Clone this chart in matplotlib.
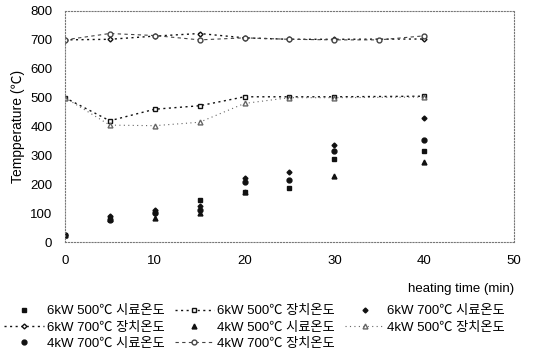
import numpy as np
import matplotlib.pyplot as plt

plt.rcParams['font.family'] = ['Liberation Sans', 'Noto Sans CJK KR', 'DejaVu Sans']

# heating time (min)
t_sample = [0, 5, 10, 15, 20, 25, 30, 40]
t_dev = [0, 5, 10, 15, 20, 25, 30, 40]
t_dev_4k700 = [0, 5, 10, 15, 20, 25, 30, 35, 40]

# 시료온도 (sample temperature)
s_6k500 = [25, 85, 105, 145, 175, 187, 287, 315]
s_6k700 = [25, 92, 110, 125, 222, 242, 336, 430]
s_4k500 = [25, 80, 85, 100, 172, np.nan, 228, 277]
s_4k700 = [25, 78, 100, 110, 207, 214, 315, 353]

# 장치온도 (device temperature)
d_6k500 = [500, 420, 460, 472, 503, 503, 503, 505]
d_6k700 = [700, 702, 713, 722, 707, 702, 702, 703]
d_4k500 = [500, 405, 403, 415, 480, 500, 500, 502]
d_4k700 = [700, 722, 715, 700, 707, 702, 700, 700, 714]

fig = plt.figure(figsize=(5.36, 3.54), dpi=100)
ax = fig.add_axes([0.121, 0.316, 0.838, 0.653])

k = '#111111'
ms = 3.5
a, = ax.plot(t_sample, s_6k500, 's', color=k, ms=ms, ls='none')
b, = ax.plot(t_dev, d_6k500, 's', color=k, mfc='white', ms=ms, ls=(0, (1.5, 2.5)), lw=1)
c, = ax.plot(t_sample, s_6k700, 'D', color=k, ms=ms - 1, ls='none')
d, = ax.plot(t_dev, d_6k700, 'D', color=k, mfc='white', ms=ms - 1, ls=(0, (1.5, 2.5)), lw=1)
e, = ax.plot(t_sample, s_4k500, '^', color=k, ms=ms, ls='none')
f, = ax.plot(t_dev, d_4k500, '^', color='#666666', mfc='white', ms=ms, ls=(0, (1, 3)), lw=0.8)
g, = ax.plot(t_sample, s_4k700, 'o', color=k, ms=ms, ls='none')
h, = ax.plot(t_dev_4k700, d_4k700, 'o', color='#444444', mfc='white', ms=ms, ls=(0, (3, 3)), lw=0.8)

labels = ['6kW 500℃ 시료온도', '6kW 500℃ 장치온도', '6kW 700℃ 시료온도',
          '6kW 700℃ 장치온도', '4kW 500℃ 시료온도', '4kW 500℃ 장치온도',
          '4kW 700℃ 시료온도', '4kW 700℃ 장치온도']
handles = [a, b, c, d, e, f, g, h]
order = [0, 3, 6, 1, 4, 7, 2, 5]
ax.legend([handles[i] for i in order], [labels[i] for i in order], ncol=3,
          frameon=False, fontsize=9.5, loc='upper left',
          bbox_to_anchor=(0.008, 0.138), bbox_transform=fig.transFigure,
          borderaxespad=0, borderpad=0, handlelength=3.0, columnspacing=0.8,
          labelspacing=0.3, handletextpad=0.2)

ax.set_xlim(0, 50)
ax.set_ylim(0, 800)
ax.set_xticks(range(0, 51, 10))
ax.set_yticks(range(0, 801, 100))
ax.tick_params(length=0, labelsize=9.5, pad=9)
ax.set_xlabel('heating time (min)', loc='right', fontsize=9.5, labelpad=12)
ax.set_ylabel('Tempperature (℃)', fontsize=10, labelpad=4)
for s in ax.spines.values():
    s.set_color('#777777')
    s.set_linewidth(0.8)
    s.set_linestyle(':')

plt.savefig('out.png', dpi=100)
